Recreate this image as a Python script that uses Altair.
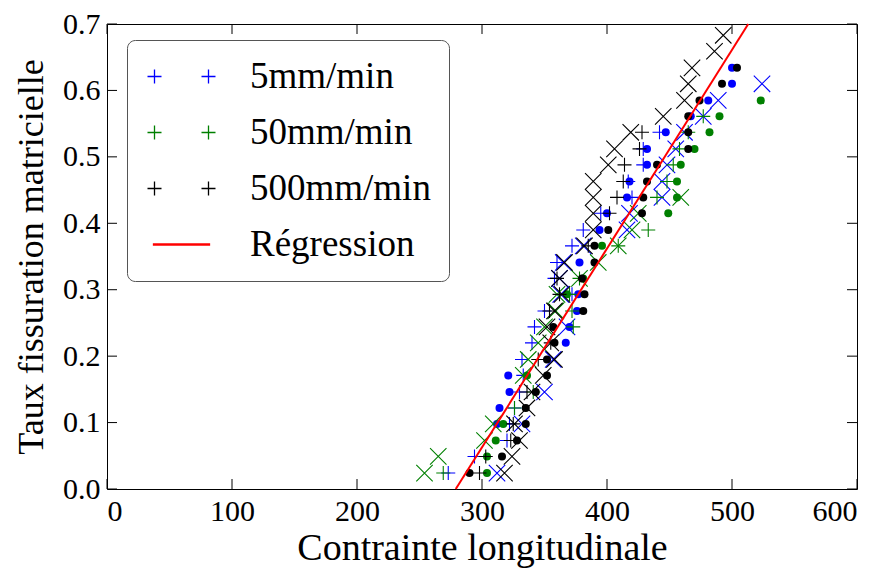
import altair as alt
import pandas as pd

# Crack-density levels (y values shared by all series)
LEVELS = [0.024, 0.049, 0.073, 0.098, 0.122, 0.146, 0.171, 0.195, 0.220, 0.244,
          0.268, 0.293, 0.317, 0.341, 0.366, 0.390, 0.415, 0.439, 0.463, 0.488,
          0.512, 0.537, 0.561, 0.585, 0.610, 0.634, 0.659, 0.683]

# 5 mm/min (blue)
B_PLUS_K = [1, 2, 3, 4, 5, 6, 7, 8, 9, 10, 11, 12, 13, 14, 15, 16, 17, 18, 19, 20, 21, 22]
B_PLUS_X = [273, 294, 320, 322, 326, 330, 333, 332, 340, 342, 350, 372, 358, 360, 372, 381, 395, 420, 417, 429, 429, 442]
B_CROSS_K = [1, 4, 6, 8, 10, 12, 13, 14, 15, 16, 17, 18, 19, 20, 21, 22, 23, 24, 25]
B_CROSS_X = [312, 332, 350, 357, 368, 363, 362, 365, 381, 416, 418, 444, 444, 448, 455, 462, 477, 489, 524]
B_DOT_K = [4, 5, 6, 7, 9, 10, 11, 12, 14, 16, 17, 18, 19, 20, 21, 22, 23, 24, 25, 26]
B_DOT_X = [312, 314, 322, 321, 367, 370, 376, 377, 378, 394, 400, 416, 418, 432, 432, 447, 467, 481, 500, 500]

# 50 mm/min (green)
G_PLUS_K = [1, 5, 6, 10, 11, 12, 13, 15, 16, 18, 19, 20, 21, 22, 23]
G_PLUS_X = [269, 326, 341, 373, 372, 370, 378, 409, 433, 440, 448, 453, 458, 465, 477]
G_CROSS_K = [1, 2, 3, 4, 7, 8, 9, 10, 11, 12, 13, 14, 15, 16, 17, 18]
G_CROSS_X = [254, 265, 302, 309, 333, 337, 345, 350, 359, 360, 378, 393, 409, 420, 425, 459]
G_DOT_K = [1, 2, 3, 4, 7, 12, 13, 15, 17, 18, 19, 20, 21, 22, 23, 24]
G_DOT_X = [304, 304, 311, 317, 336, 368, 381, 396, 449, 456, 456, 459, 470, 482, 490, 523]

# 500 mm/min (black)
K_PLUS_K = [1, 2, 3, 4, 6, 8, 9, 11, 12, 13, 15, 17, 18, 19, 20, 21, 22]
K_PLUS_X = [298, 303, 323, 325, 336, 345, 355, 354, 362, 360, 385, 402, 408, 413, 414, 426, 428]
K_CROSS_K = [1, 2, 3, 4, 5, 6, 7, 8, 9, 10, 11, 12, 13, 14, 15, 16, 17, 18, 19, 20,
             21, 22, 23, 24, 25, 26, 27, 28]
K_CROSS_X = [318, 324, 330, 326, 336, 340, 349, 358, 355, 352, 358, 364, 362, 366, 382, 389, 389, 389, 389, 401,
             406, 419, 445, 462, 465, 468, 486, 493]
K_DOT_K = [1, 2, 3, 4, 5, 6, 7, 8, 9, 10, 11, 12, 13, 14, 15, 16, 17, 18, 19, 20,
           21, 22, 23, 24, 25, 26]
K_DOT_X = [290, 316, 328, 335, 335, 343, 352, 352, 358, 357, 381, 382, 380, 390, 390, 401, 428, 429, 432, 440,
           465, 465, 465, 474, 492, 504]

# Regression line end points
REG_X = [279, 513]
REG_Y = [0.0, 0.7]

LEGEND_LABELS = ["5mm/min", "50mm/min", "500mm/min", "Régression"]
LEGEND_COLORS = ["#0000ff", "#008000", "#000000", "#ff0000"]

X_TICKS = [0, 100, 200, 300, 400, 500, 600]
Y_TICKS = [0.0, 0.1, 0.2, 0.3, 0.4, 0.5, 0.6, 0.7]

W, H = 750, 465
FONT = "Liberation Serif"
X_TITLE = "Contrainte longitudinale"
Y_TITLE = "Taux fissuration matricielle"

PLUS = "M-1,0L1,0M0,-1L0,1"
CROSS = "M-1,-1L1,1M-1,1L1,-1"
LEG_PLUS2 = "M-4.857,0L-2.857,0M-3.857,-1L-3.857,1M2.857,0L4.857,0M3.857,-1L3.857,1"
LEG_LINE = "M-4,-0.1L4,-0.1L4,0.1L-4,0.1Z"

X_SCALE = alt.Scale(domain=[0, 600], nice=False, zero=False)
Y_SCALE = alt.Scale(domain=[0, 0.7], nice=False, zero=False)
X_AXIS = alt.Axis(values=X_TICKS, format="d")
Y_AXIS = alt.Axis(values=Y_TICKS, format=".1f")


def XE():
    return alt.X("x:Q", scale=X_SCALE, axis=X_AXIS, title=X_TITLE)


def YE():
    return alt.Y("y:Q", scale=Y_SCALE, axis=Y_AXIS, title=Y_TITLE)


def series_df(ks, xs):
    return pd.DataFrame({"x": xs, "y": [LEVELS[k - 1] for k in ks]})


layers = []
groups = [
    ("#0000ff", [(B_PLUS_K, B_PLUS_X, "plus"), (B_CROSS_K, B_CROSS_X, "cross"), (B_DOT_K, B_DOT_X, "dot")]),
    ("#008000", [(G_PLUS_K, G_PLUS_X, "plus"), (G_CROSS_K, G_CROSS_X, "cross"), (G_DOT_K, G_DOT_X, "dot")]),
    ("#000000", [(K_PLUS_K, K_PLUS_X, "plus"), (K_CROSS_K, K_CROSS_X, "cross"), (K_DOT_K, K_DOT_X, "dot")]),
]
for col, items in groups:
    for ks, xs, kind in items:
        df = series_df(ks, xs)
        if kind == "plus":
            m = alt.Chart(df).mark_point(shape=PLUS, size=196, filled=False, strokeWidth=1.1,
                                         color=col, opacity=1)
        elif kind == "cross":
            m = alt.Chart(df).mark_point(shape=CROSS, size=270, filled=False, strokeWidth=1.1,
                                         color=col, opacity=1)
        else:
            m = alt.Chart(df).mark_point(shape="circle", size=64, filled=True, strokeWidth=0,
                                         color=col, opacity=1)
        layers.append(m.encode(x=XE(), y=YE()))

reg = alt.Chart(pd.DataFrame({"x": REG_X, "y": REG_Y})).mark_line(
    color="#ff0000", strokeWidth=2
).encode(x=XE(), y=YE())
layers.append(reg)

# inward ticks on all four sides
xt = pd.DataFrame({"x": X_TICKS})
yt = pd.DataFrame({"y": Y_TICKS})
tick_style = dict(color="black", strokeWidth=1)
layers.append(alt.Chart(xt).mark_rule(**tick_style).encode(
    x=XE(), y=alt.value(H), y2=alt.value(H - 10)))
layers.append(alt.Chart(xt).mark_rule(**tick_style).encode(
    x=XE(), y=alt.value(0), y2=alt.value(10)))
layers.append(alt.Chart(yt).mark_rule(**tick_style).encode(
    y=YE(), x=alt.value(0), x2=alt.value(10)))
layers.append(alt.Chart(yt).mark_rule(**tick_style).encode(
    y=YE(), x=alt.value(W), x2=alt.value(W - 10)))

# legend driver (invisible marks, legend from scales)
leg = alt.Chart(pd.DataFrame({"label": LEGEND_LABELS})).mark_point(
    filled=False, opacity=0
).encode(
    x=alt.value(0), y=alt.value(0),
    color=alt.Color("label:N", title=None,
                    scale=alt.Scale(domain=LEGEND_LABELS, range=LEGEND_COLORS)),
    shape=alt.Shape("label:N", title=None,
                    scale=alt.Scale(domain=LEGEND_LABELS,
                                    range=[LEG_PLUS2, LEG_PLUS2, LEG_PLUS2, LEG_LINE])),
)
layers.append(leg)

chart = alt.layer(*layers).properties(
    width=W, height=H,
    padding={"left": 99, "top": 16, "right": 18, "bottom": 86},
    autosize=alt.AutoSizeParams(type="none"),
).configure_view(
    stroke="black", strokeWidth=1
).configure_axis(
    labelFont=FONT, labelFontSize=30, labelColor="black",
    titleFont=FONT, titleFontSize=38, titleFontWeight="normal", titleColor="black",
    grid=False, ticks=False, domain=False,
).configure_axisX(
    labelPadding=7, titlePadding=3
).configure_axisY(
    labelPadding=7, titlePadding=12, titleFontSize=36
).configure_legend(
    orient="none", legendX=20, legendY=16,
    padding=18, cornerRadius=8, strokeColor="#555555", fillColor="white",
    labelFont=FONT, labelFontSize=37, labelColor="black", labelLimit=500,
    symbolSize=196, symbolStrokeWidth=1.3, symbolOpacity=1,
    symbolOffset=18, labelOffset=50, rowPadding=18,
)

chart.save("out.html", embed_options={"renderer": "svg", "actions": False})
